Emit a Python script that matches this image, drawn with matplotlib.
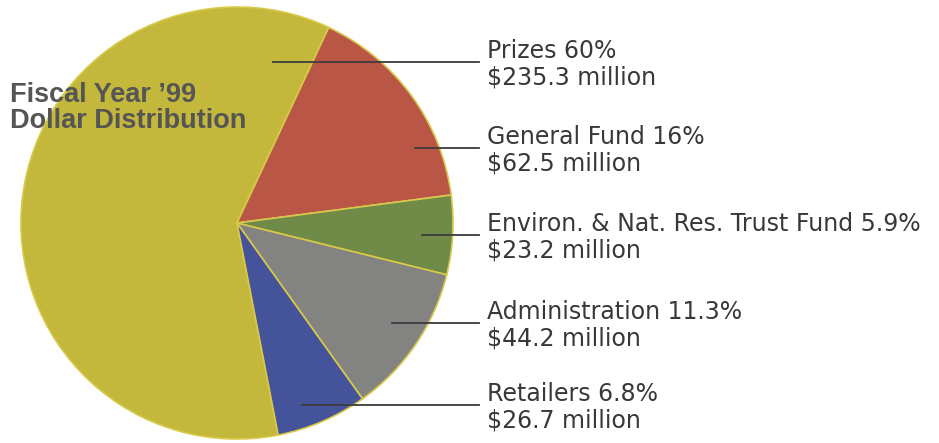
import matplotlib
matplotlib.use('Agg')
import matplotlib.pyplot as plt

# Fiscal Year '99 dollar distribution ($ millions)
categories = ['Prizes', 'General Fund', 'Environ. & Nat. Res. Trust Fund',
              'Administration', 'Retailers']
percents = ['60%', '16%', '5.9%', '11.3%', '6.8%']
millions = [235.3, 62.5, 23.2, 44.2, 26.7]
colors = ['#c3b83c', '#ba5646', '#708a48', '#838382', '#45539a']

W, H = 939, 443
fig = plt.figure(figsize=(W / 100, H / 100), dpi=100)
ax = fig.add_axes([0, 0, 1, 1])

cx, cy, r = 237, H - 223, 216
ax.pie(millions, colors=colors, startangle=-79, counterclock=False,
       center=(cx, cy), radius=r, frame=True,
       wedgeprops=dict(edgecolor='#d9c94a', linewidth=1.2))
ax.set_xlim(0, W)
ax.set_ylim(0, H)
ax.set_aspect('equal')
ax.axis('off')

# leader lines: (start x, y) in pixels from top
leaders = [(273, 62), (415, 148), (422, 235), (392, 323), (302, 405)]
text_x = 487
for (x0, y0), cat, pct, m in zip(leaders, categories, percents, millions):
    ax.plot([x0, 479], [H - y0, H - y0], color='#3c3c3c', lw=1.3)
    ax.text(text_x, H - y0 - 2, f'{cat} {pct}\n${m} million', ha='left', va='center',
            fontsize=17, color='#383838', linespacing=1.12,
            family='DejaVu Sans')

ax.text(10, H - 108, "Fiscal Year \u201999\nDollar Distribution", ha='left', va='center',
        fontsize=19.5, fontweight='bold', color='#555555', family='Liberation Sans',
        linespacing=1.0)

fig.savefig('out.png', dpi=100, facecolor='white')
